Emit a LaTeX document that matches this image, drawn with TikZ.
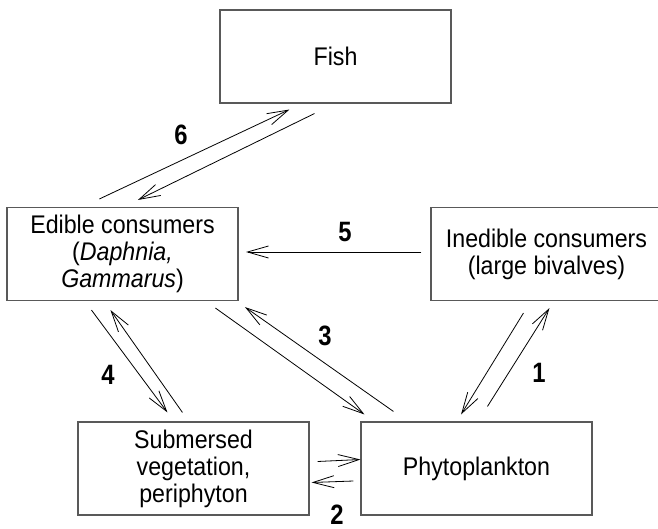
\documentclass[tikz,border=0pt]{standalone}
\usepackage{fontspec}
\setmainfont{Liberation Sans}
\newfontfamily\boxfont[FakeStretch=0.91]{Liberation Sans}
\newfontfamily\numfont[FakeStretch=0.85]{Liberation Sans}
\usetikzlibrary{arrows.meta,calc}
\begin{document}
\begin{tikzpicture}[x=1pt,y=-1pt,
  box/.style={draw=black!65,line width=1.1pt,minimum width=231pt,minimum height=93pt,
    inner sep=0pt,align=center,font=\boxfont\fontsize{25.5}{27}\selectfont},
  flow/.style={line width=0.8pt,-{Straight Barb[length=21pt,width=12pt]}},
  num/.style={font=\numfont\fontsize{28}{30}\selectfont\bfseries}]
\useasboundingbox (0,0) rectangle (658,529);
\node[box] (fish) at (335.5,56.5) {Fish};
\node[box] (edible) at (122.5,254) {Edible consumers\\(\textit{Daphnia,}\\\textit{Gammarus})};
\node[box] (inedible) at (546.5,254) {Inedible consumers\\(large bivalves)};
\node[box] (sub) at (193.5,468.5) {Submersed\\vegetation,\\periphyton};
\node[box] (phyto) at (476.5,468.5) {Phytoplankton};
% 6
\draw[flow] ($(edible.north west)+(93,-8)$) -- ($(fish.south west)+(70,6)$);
\draw[flow] ($(fish.south west)+(95,10)$) -- ($(edible.north west)+(131.5,-7)$);
\node[num] (n6) at (181,135) {6};
% 5
\draw[flow] ($(inedible.west)+(-9,-2)$) -- ($(edible.east)+(7.5,-2)$);
\node[num] (n5) at (345,232) {5};
% 4
\draw[flow] ($(edible.south west)+(85,9)$) -- ($(sub.north west)+(90,-9)$);
\draw[flow] ($(sub.north west)+(105,-9)$) -- ($(edible.south west)+(104,9)$);
\node[num] (n4) at (108,375) {4};
% 3
\draw[flow] ($(edible.south west)+(209,7)$) -- ($(phyto.north west)+(4,-7)$);
\draw[flow] ($(phyto.north west)+(33,-10)$) -- ($(edible.south west)+(238.5,6)$);
\node[num] (n3) at (325,336) {3};
% 1
\draw[flow] ($(inedible.south west)+(93,12)$) -- ($(phyto.north west)+(100.6,-7)$);
\draw[flow] ($(phyto.north west)+(127,-15)$) -- ($(inedible.south west)+(119,7)$);
\node[num] (n1) at (539,373) {1};
% 2
\draw[flow] ($(sub.east)+(8,-7)$) -- ($(phyto.west)+(0,-9)$);
\draw[flow] ($(phyto.west)+(-7,12.5)$) -- ($(sub.east)+(2,14)$);
\node[num] (n2) at (337,515) {2};
\end{tikzpicture}
\end{document}
